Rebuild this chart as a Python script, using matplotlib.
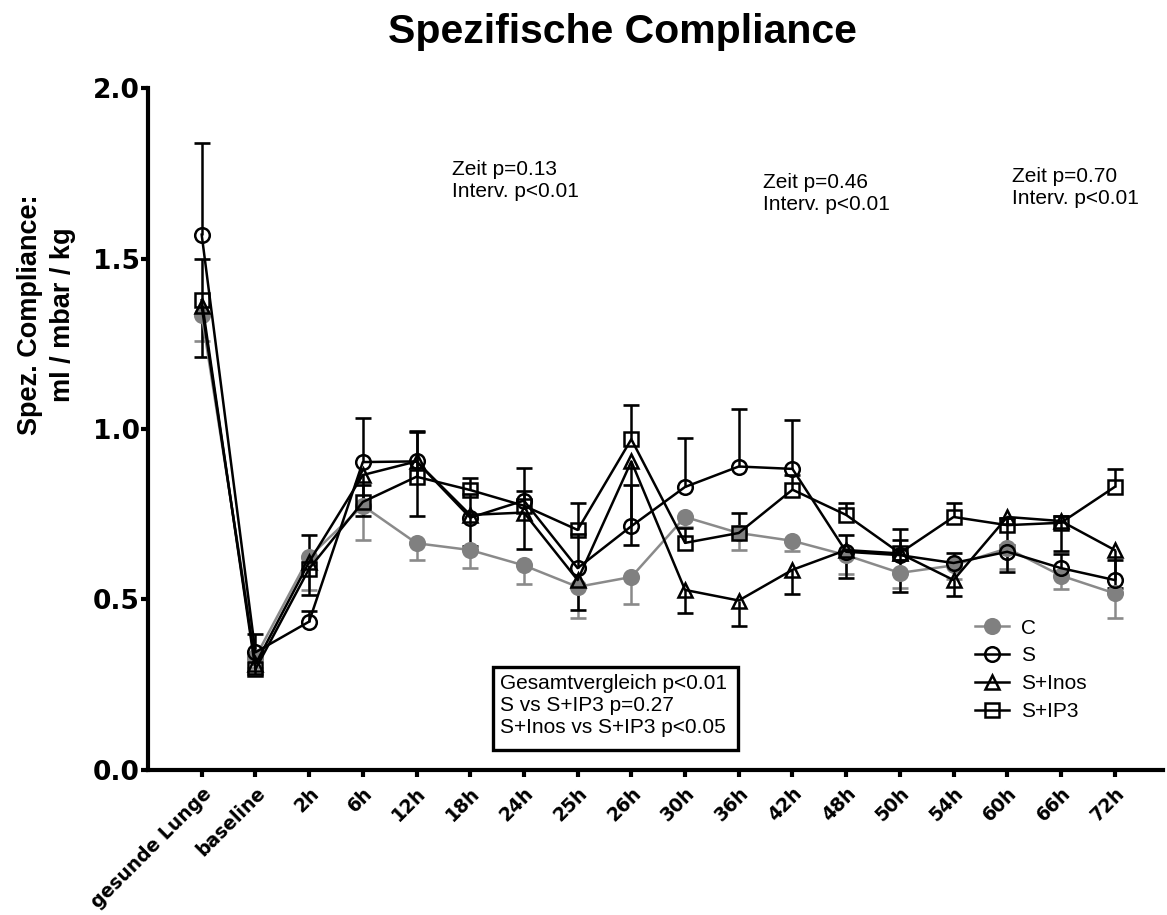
import numpy as np
import matplotlib.pyplot as plt
from matplotlib.patches import Rectangle

# Zeitpunkte
labels = ['gesunde Lunge', 'baseline', '2h', '6h', '12h', '18h', '24h', '25h', '26h',
          '30h', '36h', '42h', '48h', '50h', '54h', '60h', '66h', '72h']

# Mittelwerte und Fehler; C und S+Inos nach unten, S und S+IP3 nach oben
c_mean = [1.335, 0.33, 0.625, 0.775, 0.665, 0.645, 0.60, 0.537, 0.566,
          0.742, 0.695, 0.672, 0.63, 0.578, 0.60, 0.65, 0.57, 0.518]
c_err = [0.077, 0.03, 0.097, 0.10, 0.05, 0.053, 0.055, 0.09, 0.08,
         0.03, 0.05, 0.03, 0.055, 0.044, 0.04, 0.06, 0.04, 0.072]

s_mean = [1.57, 0.345, 0.435, 0.903, 0.905, 0.74, 0.79, 0.592, 0.715,
          0.83, 0.89, 0.883, 0.64, 0.63, 0.607, 0.64, 0.592, 0.557]
s_err = [0.27, 0.055, 0.03, 0.13, 0.09, 0.07, 0.096, 0.10, 0.12,
         0.143, 0.168, 0.143, 0.05, 0.045, 0.03, 0.02, 0.04, 0.06]

inos_mean = [1.36, 0.31, 0.61, 0.865, 0.905, 0.748, 0.755, 0.557, 0.905,
             0.528, 0.497, 0.587, 0.645, 0.635, 0.557, 0.742, 0.73, 0.645]
inos_err = [0.15, 0.03, 0.097, 0.12, 0.16, 0.09, 0.107, 0.088, 0.245,
            0.068, 0.075, 0.071, 0.082, 0.113, 0.047, 0.16, 0.088, 0.11]

ip3_mean = [1.378, 0.295, 0.59, 0.786, 0.86, 0.821, 0.775, 0.704, 0.97,
            0.666, 0.695, 0.822, 0.748, 0.636, 0.742, 0.718, 0.725, 0.83]
ip3_err = [0.122, 0.03, 0.10, 0.05, 0.13, 0.035, 0.043, 0.08, 0.10,
           0.043, 0.06, 0.043, 0.035, 0.07, 0.04, 0.02, 0.02, 0.053]

x = np.arange(len(labels))

fig = plt.figure(figsize=(11.67, 9.15), dpi=100)
ax = fig.add_axes([0.1268, 0.1585, 0.8698, 0.7453])


def gruppe(mean, err, richtung, farbe, marker, mfc, name):
    mean = np.array(mean)
    ende = mean + richtung * np.array(err)
    ax.vlines(x, mean, ende, color=farbe, lw=1.8, zorder=2)
    ax.plot(x, ende, ls='none', marker='_', ms=12, mew=1.9, color=farbe, zorder=2)
    h, = ax.plot(x, mean, color=farbe, lw=1.8, marker=marker, ms=10.5, mew=1.8,
                 mfc=mfc, mec=farbe if mfc == 'none' else mfc, label=name, zorder=3)
    return h


grau = '#808080'
hC = gruppe(c_mean, c_err, -1, '#8a8a8a', 'o', grau, 'C')
hS = gruppe(s_mean, s_err, +1, 'black', 'o', 'none', 'S')
hI = gruppe(inos_mean, inos_err, -1, 'black', '^', 'none', 'S+Inos')
hP = gruppe(ip3_mean, ip3_err, +1, 'black', 's', 'none', 'S+IP3')

ax.set_xlim(-1, 17.9)
ax.set_ylim(0, 2.0)
ax.set_yticks([0.0, 0.5, 1.0, 1.5, 2.0])
ax.set_yticklabels(['0.0', '0.5', '1.0', '1.5', '2.0'],
                   fontfamily='DejaVu Sans', fontweight='bold', fontsize=19)
ax.set_xticks(x)
ax.set_xticklabels(labels, rotation=45, ha='right', rotation_mode='anchor',
                   fontfamily='DejaVu Sans', fontweight='bold', fontsize=13.5)

for s in ['top', 'right']:
    ax.spines[s].set_visible(False)
for s in ['left', 'bottom']:
    ax.spines[s].set_linewidth(3)
ax.tick_params(axis='y', length=5, width=3, pad=1)
ax.tick_params(axis='x', length=5, width=3, pad=5)

# Legende
leg = ax.legend(handles=[hC, hS, hI, hP], loc='upper left', bbox_to_anchor=(0.815, 0.222),
                frameon=False, borderpad=0, borderaxespad=0, handlelength=1.6,
                handletextpad=0.6, labelspacing=0.42,
                prop={'family': 'Liberation Sans', 'size': 15})

# Titel und Achsenbeschriftung
fig.text(0.533, 0.965, 'Spezifische Compliance', ha='center', va='center',
         fontfamily='Liberation Sans', fontweight='bold', fontsize=29.5)
fig.text(0.040, 0.656, 'Spez. Compliance:\nml / mbar / kg', ha='center', va='center',
         rotation=90, multialignment='center', linespacing=1.35,
         fontfamily='Liberation Sans', fontweight='bold', fontsize=19.5)

# Statistik-Texte
txt = dict(fontfamily='Liberation Sans', fontsize=15, va='top', linespacing=1.2)
fig.text(452 / 1167, 1 - 160 / 915, 'Zeit p=0.13\nInterv. p<0.01', **txt)
fig.text(763 / 1167, 1 - 173 / 915, 'Zeit p=0.46\nInterv. p<0.01', **txt)
fig.text(1012 / 1167, 1 - 167 / 915, 'Zeit p=0.70\nInterv. p<0.01', **txt)

fig.patches.append(Rectangle((493 / 1167, 1 - 750 / 915), 245 / 1167, 83 / 915,
                             transform=fig.transFigure, fill=False, lw=2.4,
                             edgecolor='black'))
fig.text(500 / 1167, 1 - 674 / 915,
         'Gesamtvergleich p<0.01\nS vs S+IP3 p=0.27\nS+Inos vs S+IP3 p<0.05', **txt)

fig.savefig('out.png', dpi=100)
